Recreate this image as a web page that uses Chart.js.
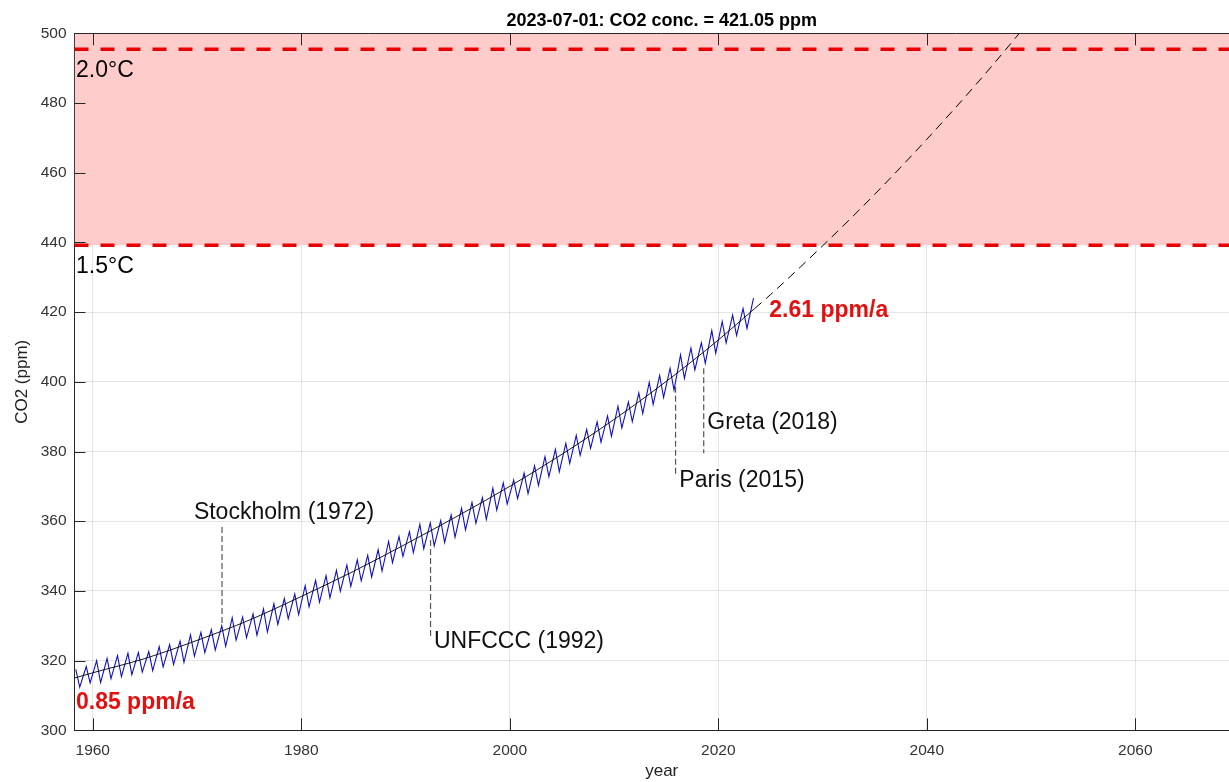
<!DOCTYPE html>
<html>
<head>
<meta charset="utf-8">
<script src="https://cdn.jsdelivr.net/npm/chart.js@4.4.0/dist/chart.umd.min.js"></script>
<style>
  html, body { margin: 0; padding: 0; background: #fff; overflow: hidden; }
  #wrap { width: 1250px; height: 782px; }
</style>
</head>
<body>
<div id="wrap"><canvas id="co2Chart" width="1250" height="782"></canvas></div>
<script>
// Mauna Loa CO2 - seasonal maxima (May) and minima (Sep/Oct)
let peakYears = [];
for (let y = 1958; y <= 2023; y++) peakYears.push(y);

let peakValues = [317.5, 318.3, 320.0, 320.6, 321.4, 322.1, 322.3, 322.6, 324.0, 324.6,
    325.6, 327.4, 328.1, 328.9, 330.0, 332.3, 332.5, 333.4, 334.8, 336.3,
    337.8, 339.1, 341.5, 343.0, 344.4, 345.9, 347.4, 348.9, 350.2, 351.8,
    354.2, 355.6, 357.0, 359.1, 359.5, 360.2, 361.8, 363.7, 365.4, 366.8,
    369.5, 371.0, 371.8, 373.8, 375.9, 378.5, 380.6, 382.3, 384.6, 386.3,
    388.5, 390.2, 393.0, 394.2, 396.8, 399.8, 401.8, 403.9, 407.7, 409.7,
    411.2, 414.7, 417.3, 419.1, 421.0, 424.0];

let troughValues = [312.4, 313.6, 313.7, 314.8, 315.4, 316.0, 316.7, 317.1, 318.2, 318.9,
    319.5, 321.3, 322.3, 323.0, 324.1, 325.9, 326.6, 327.3, 328.2, 330.4,
    332.0, 333.2, 335.4, 336.8, 338.0, 339.9, 341.3, 342.9, 344.0, 345.7,
    348.1, 349.9, 351.0, 352.1, 352.9, 353.9, 355.4, 357.5, 359.4, 360.5,
    363.2, 364.9, 366.5, 367.9, 370.3, 372.8, 374.2, 376.6, 378.9, 380.9,
    382.7, 384.4, 386.8, 388.6, 390.9, 393.5, 395.5, 397.6, 401.0, 403.4,
    405.3, 408.2, 411.2, 413.3, 415.3];

// fitted trend (solid over the data, dashed as projection)
let fitYears = [1958.25, 1960, 1965, 1970, 1975, 1980, 1985, 1990, 1995, 2000, 2005, 2010, 2015, 2020, 2023.5];
let fitValues = [315.0, 316.5, 320.6, 325.8, 331.6, 338.4, 345.6, 353.4, 361.5, 370.0, 379.2, 389.2, 400.1, 412.0, 421.05];
let projYears = [2023.5, 2025, 2030, 2035, 2040, 2045, 2050];
let projValues = [421.05, 425.0, 439.0, 453.8, 469.6, 486.3, 504.0];

// temperature limits
let limit15 = 439.2;
let limit20 = 495.4;

// events
let eventNames = ['Stockholm (1972)', 'UNFCCC (1992)', 'Paris (2015)', 'Greta (2018)'];
let eventDates = [1972.4, 1992.4, 2015.9, 2018.6];
let eventFrom = [330.8, 354.6, 398.6, 403.9];
let eventTo = [358.6, 326.9, 372.8, 379.5];

let xTicks = [1960, 1980, 2000, 2020, 2040, 2060];
let yTicks = [300, 320, 340, 360, 380, 400, 420, 440, 460, 480, 500];

let titleText = '2023-07-01: CO2 conc. = 421.05 ppm';
let rateStart = '0.85 ppm/a';
let rateEnd = '2.61 ppm/a';

const xMin = 1958.25, xMax = 2070.9;
const FONT = "'Liberation Sans', Arial, Helvetica, sans-serif";
const axisColor = '#262626';
const red = '#e31010';

// zigzag of maxima/minima
let measured = [];
for (let i = 0; i < peakYears.length; i++) {
    measured.push({ x: peakYears[i] + 0.375, y: peakValues[i] });
    if (i < troughValues.length) measured.push({ x: peakYears[i] + 0.75, y: troughValues[i] });
}

let fitPts = fitYears.map((t, i) => ({ x: t, y: fitValues[i] }));
let projPts = projYears.map((t, i) => ({ x: t, y: projValues[i] }));

let datasets = [];

// pink band above 1.5 degC
datasets.push({
    data: [{ x: xMin, y: 500 }, { x: xMax, y: 500 }],
    borderWidth: 0, pointRadius: 0,
    backgroundColor: '#ffcccc',
    fill: { value: limit15 },
    order: 10
});
[limit20, limit15].forEach(v => {
    datasets.push({
        data: [{ x: xMin, y: v }, { x: xMax, y: v }],
        borderColor: 'rgb(230,0,0)', borderWidth: 3.5, borderDash: [14, 12],
        pointRadius: 0, fill: false, order: 9
    });
});
// event markers
eventDates.forEach((d, i) => {
    datasets.push({
        data: [{ x: d, y: eventFrom[i] }, { x: d, y: eventTo[i] }],
        borderColor: '#555', borderWidth: 1.2, borderDash: [6, 3],
        pointRadius: 0, fill: false, order: 6
    });
});
datasets.push({
    data: measured,
    borderColor: '#1010c0', borderWidth: 1.1,
    pointRadius: 0, fill: false, order: 3
});
datasets.push({
    data: fitPts,
    borderColor: '#000', borderWidth: 0.9,
    cubicInterpolationMode: 'monotone',
    pointRadius: 0, fill: false, order: 2
});
datasets.push({
    data: projPts,
    borderColor: '#000', borderWidth: 1, borderDash: [9, 6],
    cubicInterpolationMode: 'monotone',
    pointRadius: 0, fill: false, order: 1
});

// texts, inward ticks, top frame
const extras = {
    id: 'extras',
    afterDraw(chart) {
        const { ctx, chartArea: a, scales: { x, y } } = chart;
        ctx.save();
        ctx.strokeStyle = axisColor;
        ctx.lineWidth = 1;
        ctx.beginPath();
        ctx.moveTo(a.left, Math.round(a.top) + 0.5);
        ctx.lineTo(a.right, Math.round(a.top) + 0.5);
        xTicks.forEach(v => {
            const px = Math.round(x.getPixelForValue(v)) + 0.5;
            ctx.moveTo(px, a.bottom); ctx.lineTo(px, a.bottom - 12);
            ctx.moveTo(px, a.top); ctx.lineTo(px, a.top + 12);
        });
        yTicks.forEach(v => {
            const py = Math.round(y.getPixelForValue(v)) + 0.5;
            ctx.moveTo(a.left, py); ctx.lineTo(a.left + 11, py);
        });
        ctx.stroke();

        ctx.textBaseline = 'alphabetic';
        ctx.textAlign = 'left';
        ctx.fillStyle = '#000';
        ctx.font = '23px ' + FONT;
        ctx.fillText('2.0°C', x.getPixelForValue(1958.4), y.getPixelForValue(487.5));
        ctx.fillText('1.5°C', x.getPixelForValue(1958.4), y.getPixelForValue(431.1));
        ctx.fillStyle = '#111';
        ctx.fillText(eventNames[0], x.getPixelForValue(1969.7), y.getPixelForValue(360.5));
        ctx.fillText(eventNames[1], x.getPixelForValue(1992.73), y.getPixelForValue(323.5));
        ctx.fillText(eventNames[2], x.getPixelForValue(2016.26), y.getPixelForValue(369.9));
        ctx.fillText(eventNames[3], x.getPixelForValue(2018.94), y.getPixelForValue(386.4));

        ctx.fillStyle = red;
        ctx.font = 'bold 23px ' + FONT;
        ctx.fillText(rateStart, x.getPixelForValue(1958.39), y.getPixelForValue(306.0));
        ctx.fillText(rateEnd, x.getPixelForValue(2024.89), y.getPixelForValue(418.7));

        ctx.fillStyle = '#000';
        ctx.font = 'bold 18px ' + FONT;
        ctx.textAlign = 'center';
        ctx.fillText(titleText, (a.left + a.right) / 2, 26);
        ctx.restore();
    }
};

const ctx = document.getElementById('co2Chart').getContext('2d');
new Chart(ctx, {
    type: 'line',
    data: { datasets: datasets },
    options: {
        responsive: false,
        animation: false,
        devicePixelRatio: 1,
        layout: { padding: { top: 33.3, right: 1, bottom: 0, left: 0 } },
        plugins: { legend: { display: false }, tooltip: { enabled: false } },
        elements: { line: { tension: 0 } },
        scales: {
            x: {
                type: 'linear',
                min: xMin, max: xMax,
                z: 1,
                afterBuildTicks: s => { s.ticks = xTicks.map(v => ({ value: v })); },
                afterFit: s => { s.height = 51.7; },
                grid: { color: 'rgba(0,0,0,0.1)', drawTicks: false },
                border: { color: axisColor, width: 1 },
                ticks: { padding: 11, color: '#333', font: { family: FONT, size: 15.5 }, callback: v => String(v) },
                title: { display: true, text: 'year', color: '#222', font: { family: FONT, size: 17 }, padding: { top: 0, bottom: 0 } }
            },
            y: {
                min: 300, max: 500,
                z: 1,
                afterBuildTicks: s => { s.ticks = yTicks.map(v => ({ value: v })); },
                afterFit: s => { s.width = 74.5; },
                grid: { color: 'rgba(0,0,0,0.1)', drawTicks: false },
                border: { color: axisColor, width: 1 },
                ticks: { padding: 8, color: '#333', font: { family: FONT, size: 15.5 }, callback: v => String(v) },
                title: { display: true, text: 'CO2 (ppm)', color: '#222', font: { family: FONT, size: 17 }, padding: { top: 12, bottom: 0 } }
            }
        }
    },
    plugins: [extras]
});
</script>
</body>
</html>
